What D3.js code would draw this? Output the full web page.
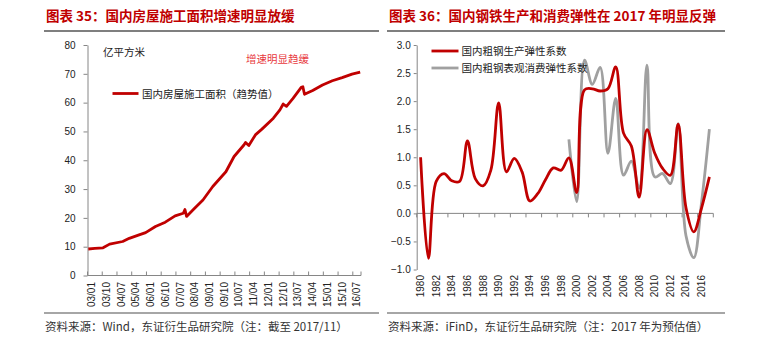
<!DOCTYPE html>
<html>
<head>
<meta charset="utf-8">
<script src="https://cdn.jsdelivr.net/npm/d3@7"></script>
<style>
  body { margin: 0; background: #fff; }
  svg text { font-family: "Liberation Sans", Arial, sans-serif; }
  .cjk { font-family: "Noto Sans CJK SC", sans-serif; }
</style>
</head>
<body>
<svg class="chart" width="764" height="361"></svg>
<script>
// left chart: construction area, trend value (亿平方米)
const areaMonths = ["03/01","03/05","03/10","04/02","04/10","05/02","05/08","05/12","06/06","06/12",
    "07/06","07/11","07/12","08/01","08/05","08/11","09/05","10/01","10/06","10/12","11/01","11/03",
    "11/07","11/11","12/06","12/10","12/12","13/02","13/06","13/11","13/12","14/01","14/06","14/12",
    "15/06","15/12","16/06","16/11"];
const areaValues = [9.2, 9.4, 9.6, 10.9, 11.8, 12.9, 14.1, 14.9, 17.0, 18.5,
    20.7, 21.6, 22.9, 20.5, 22.8, 26.2, 30.9, 36.0, 41.3, 45.3, 46.2, 45.1,
    48.8, 50.8, 54.6, 57.5, 59.5, 58.7, 61.5, 65.3, 65.5, 62.9, 64.2, 66.1,
    67.6, 68.7, 69.9, 70.6];
const areaTickLabels = ["03/01","03/10","04/07","05/04","06/01","06/10","07/07","08/04","09/01","09/10",
    "10/07","11/04","12/01","12/10","13/07","14/04","15/01","15/10","16/07"];
const areaYTicks = [0, 10, 20, 30, 40, 50, 60, 70, 80];

// right chart: crude steel elasticity
const steelYears = d3.range(1980, 2018);
const productionValues = [1.0, -0.8, 0.57, 0.71, 0.58, 0.57, 1.29, 0.62, 0.49, 0.77,
    1.97, 0.74, 0.98, 0.74, 0.22, 0.35, 0.6, 0.81, 0.77, 0.99,
    0.37, 2.2, 2.22, 2.18, 2.22, 2.61, 1.43, 1.2, 0.29, 1.49,
    1.07, 0.8, 0.68, 1.59, 0.1, -0.33, 0.1, 0.65];
const consumptionStart = 1999;
const consumptionValues = [1.32, 0.21, 2.73, 2.3, 2.6, 1.07, 2.05, 0.68, 0.93, 0.45,
    2.64, 0.65, 0.71, 0.53, 1.6, -0.4, -0.79, 0.2, 1.5];
const steelTickYears = [1980,1982,1984,1986,1988,1990,1992,1994,1996,1998,2000,2002,2004,2006,2008,2010,2012,2014,2016];
const steelYTicks = [-1.0, -0.5, 0.0, 0.5, 1.0, 1.5, 2.0, 2.5, 3.0];

const red = "#c00000";
const grey = "#a0a0a0";
const axisColor = "#868686";

const svg = d3.select(".chart");

function monthIndex(s) {
    const [yy, mm] = s.split("/").map(Number);
    return (yy - 3) * 12 + (mm - 1);
}

function header(x0, x1, title, source) {
    svg.append("text").attr("class", "cjk")
        .attr("x", x0 + 2).attr("y", 21)
        .attr("fill", red).attr("font-size", 13.5).attr("font-weight", "bold")
        .text(title);
    svg.append("line")
        .attr("x1", x0).attr("x2", x1).attr("y1", 31).attr("y2", 31)
        .attr("stroke", "#555").attr("stroke-width", 1.5);
    svg.append("line")
        .attr("x1", x0).attr("x2", x1).attr("y1", 313).attr("y2", 313)
        .attr("stroke", "#888").attr("stroke-width", 1.5);
    svg.append("text").attr("class", "cjk")
        .attr("x", x0 + 1).attr("y", 331)
        .attr("fill", "#333").attr("font-size", 11.5)
        .text(source);
}

function styleAxis(g) {
    g.selectAll("path, line").attr("stroke", axisColor);
    g.selectAll("text").attr("fill", "#222").attr("font-size", 10);
}

// ---------- left chart ----------
header(44, 379, "图表 35：国内房屋施工面积增速明显放缓", "资料来源：Wind，东证衍生品研究院（注：截至 2017/11）");

const xA = d3.scaleLinear().domain([-0.5, 166.5]).range([87.5, 361]);
const yA = d3.scaleLinear().domain([0, 80]).range([275.5, 45]);

svg.append("g")
    .attr("transform", "translate(87.5,0)")
    .call(d3.axisLeft(yA).tickValues(areaYTicks).tickSize(4).tickPadding(8).tickSizeOuter(0))
    .call(styleAxis);

const xAxisA = svg.append("g");
xAxisA.append("line")
    .attr("x1", xA.range()[0]).attr("x2", xA.range()[1])
    .attr("y1", 275.5).attr("y2", 275.5).attr("stroke", axisColor);
xAxisA.selectAll(".tk")
    .data(areaTickLabels.map(d => monthIndex(d) - 0.5).concat([166.5]))
    .enter().append("line")
    .attr("x1", d => xA(d)).attr("x2", d => xA(d))
    .attr("y1", 275.5).attr("y2", 271.5).attr("stroke", axisColor);
xAxisA.selectAll(".lb")
    .data(areaTickLabels)
    .enter().append("text")
    .attr("transform", d => `translate(${xA(monthIndex(d) + 2)},282) rotate(-90)`)
    .attr("text-anchor", "end").attr("dy", "0.35em")
    .attr("font-size", 10).attr("fill", "#222")
    .text(d => d);

const areaLine = d3.line()
    .x((d, i) => xA(monthIndex(areaMonths[i])))
    .y(d => yA(d));

svg.append("path")
    .datum(areaValues)
    .attr("fill", "none").attr("stroke", red).attr("stroke-width", 2.8)
    .attr("stroke-linejoin", "round")
    .attr("d", areaLine);

svg.append("text").attr("class", "cjk")
    .attr("x", 103).attr("y", 56).attr("font-size", 10.5).attr("fill", "#222")
    .text("亿平方米");
svg.append("text").attr("class", "cjk")
    .attr("x", 246).attr("y", 63).attr("font-size", 10.5).attr("fill", "#e8383d")
    .text("增速明显趋缓");
svg.append("line")
    .attr("x1", 112.5).attr("x2", 138.5).attr("y1", 93.5).attr("y2", 93.5)
    .attr("stroke", red).attr("stroke-width", 2.8);
svg.append("text").attr("class", "cjk")
    .attr("x", 142).attr("y", 97.5).attr("font-size", 10.5).attr("fill", "#222")
    .text("国内房屋施工面积（趋势值）");

// ---------- right chart ----------
header(387, 725, "图表 36：国内钢铁生产和消费弹性在 2017 年明显反弹", "资料来源：iFinD，东证衍生品研究院（注：2017 年为预估值）");

const xB = d3.scaleBand().domain(steelYears).range([416.7, 713.3]);
const yB = d3.scaleLinear().domain([-1, 3]).range([269.5, 45]);
const cx = d => xB(d) + xB.bandwidth() / 2;

svg.append("g")
    .attr("transform", "translate(416.7,0)")
    .call(d3.axisLeft(yB).tickValues(steelYTicks).tickFormat(d3.format(".1f"))
        .tickSize(3).tickPadding(3).tickSizeOuter(0))
    .call(styleAxis);

const xAxisB = svg.append("g");
xAxisB.append("line")
    .attr("x1", 416.7).attr("x2", 713.3)
    .attr("y1", yB(0)).attr("y2", yB(0)).attr("stroke", axisColor);
xAxisB.selectAll(".tk")
    .data(steelTickYears.map(d => xB(d)).concat([713.3]))
    .enter().append("line")
    .attr("x1", d => d).attr("x2", d => d)
    .attr("y1", yB(0)).attr("y2", yB(0) + 4).attr("stroke", axisColor);
xAxisB.selectAll(".lb")
    .data(steelTickYears)
    .enter().append("text")
    .attr("transform", d => `translate(${cx(d)},275) rotate(-90)`)
    .attr("text-anchor", "end").attr("dy", "0.35em")
    .attr("font-size", 10).attr("fill", "#222")
    .text(d => d);

const smooth = d3.line()
    .x(d => cx(d.year))
    .y(d => yB(d.value))
    .curve(d3.curveCatmullRom.alpha(0.5));

const production = steelYears.map((y, i) => ({year: y, value: productionValues[i]}));
const consumption = consumptionValues.map((v, i) => ({year: consumptionStart + i, value: v}));

svg.append("path")
    .datum(consumption)
    .attr("fill", "none").attr("stroke", grey).attr("stroke-width", 2.8)
    .attr("d", smooth);
svg.append("path")
    .datum(production)
    .attr("fill", "none").attr("stroke", red).attr("stroke-width", 2.8)
    .attr("d", smooth);

const legend = [
    {name: "国内粗钢生产弹性系数", color: red, y: 51},
    {name: "国内粗钢表观消费弹性系数", color: grey, y: 68}
];
legend.forEach(d => {
    svg.append("line")
        .attr("x1", 431.5).attr("x2", 458.5).attr("y1", d.y).attr("y2", d.y)
        .attr("stroke", d.color).attr("stroke-width", 2.8);
    svg.append("text").attr("class", "cjk")
        .attr("x", 461.5).attr("y", d.y + 4).attr("font-size", 10.5).attr("fill", "#222")
        .text(d.name);
});
</script>
</body>
</html>
